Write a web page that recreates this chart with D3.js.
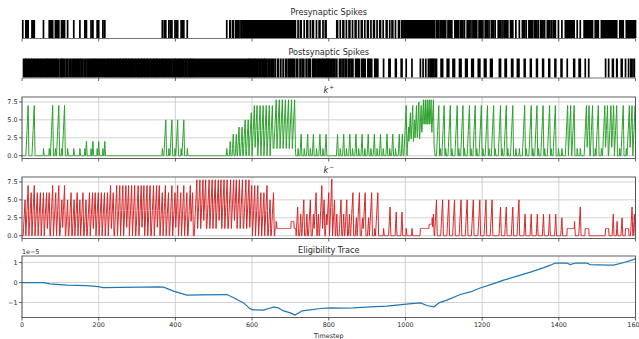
<!DOCTYPE html>
<html><head><meta charset="utf-8">
<script src="https://cdn.jsdelivr.net/npm/d3@7"></script>
<style>
body{margin:0;background:#fff}
svg{display:block;font-family:"DejaVu Sans",sans-serif}
</style>
</head><body>
<svg id="chart" width="639" height="339"></svg>
<script>
// ---- data ----------------------------------------------------------------
const timeTicks = [0, 200, 400, 600, 800, 1000, 1200, 1400, 1600];
const kTicks = [0, 2.5, 5, 7.5];
const eligTicks = [-1e-5, 0, 1e-5];

// presynaptic spike runs [first timestep, last timestep]
const preRuns = [
  [2,2],[10,16],[26,32],[56,56],[71,71],[74,80],[87,87],[90,96],[103,103],[105,111],[119,119],[135,135],[151,151],
  [164,164],[167,168],[180,180],[184,185],[196,196],[199,200],[211,211],[215,216],
  [366,366],[371,375],[383,383],[387,391],[399,399],[402,406],[415,415],[418,422],[431,431],
  [534,534],[542,543],[549,551],[557,559],[563,566],[571,574],[578,582],[586,590],[593,598],[600,606],[607,613],
  [615,621],[623,629],[631,637],[639,645],[647,653],[655,713],
  [720,720],[726,728],[736,736],[743,745],[752,752],[758,760],[768,768],[775,777],[785,785],[791,793],
  [821,823],[830,830],[837,839],[846,846],[853,855],[862,862],[869,871],[878,878],[885,887],[894,894],[901,903],
  [910,910],[917,919],[926,926],[933,935],[942,942],[950,952],[959,959],[965,967],[974,974],[982,984],[990,992],
  [996,1076],
  [1081,1087],[1091,1091],[1095,1101],[1105,1105],[1111,1117],[1121,1121],[1129,1135],[1139,1139],[1144,1150],
  [1154,1154],[1161,1167],[1171,1171],[1176,1182],[1186,1186],[1192,1198],[1202,1202],[1208,1214],[1218,1218],
  [1224,1230],[1234,1234],[1242,1248],[1252,1252],[1257,1263],[1267,1267],[1274,1280],[1288,1288],[1297,1297],
  [1305,1311],[1315,1315],[1322,1328],[1332,1332],[1337,1343],[1347,1347],[1353,1359],[1363,1363],[1370,1376],
  [1380,1380],[1385,1391],[1399,1399],[1408,1408],
  [1417,1423],[1425,1431],[1434,1440],[1448,1448],[1456,1456],
  [1466,1472],[1473,1479],[1482,1488],[1495,1495],[1497,1503],[1511,1511],[1514,1520],[1521,1527],[1530,1536],
  [1537,1543],[1545,1551],[1559,1559],[1562,1568],[1576,1576],[1578,1584],[1585,1591],[1593,1600]
];

// postsynaptic spike runs [first timestep, last timestep]
const postRuns = [
  [4,8],[10,16],[19,24],[26,32],[35,40],[43,48],[51,56],[59,64],[66,71],[74,80],[83,88],[90,96],[100,104],[105,111],
  [115,119],[123,128],[132,136],[139,144],[147,151],[154,159],[163,167],[171,176],[179,184],[186,191],[194,199],
  [202,207],[210,215],[218,223],[225,231],[233,238],[241,247],[249,255],[257,263],[265,271],[272,278],[280,286],
  [288,294],[297,303],[305,311],[312,318],[320,326],[328,334],[337,343],[345,351],[352,358],[361,366],[368,374],
  [377,382],[385,391],[394,399],[400,406],[409,414],[416,422],[425,430],[433,439],[440,445],[448,592],[593,599],
  [601,607],[609,615],[618,623],[626,631],[633,639],[643,647],[651,656],
  [660,661],[667,668],[674,675],[681,682],[688,689],[694,700],[703,711],
  [716,719],[725,727],[731,735],[741,743],[748,752],[758,760],[762,767],[771,773],[776,782],[784,788],[792,794],
  [795,800],[801,808],[811,815],[819,821],[828,832],[837,839],[843,847],[852,854],[858,863],[870,872],[875,880],
  [886,888],[890,895],[902,904],[907,912],[920,920],[923,928],[943,943],[957,960],[974,976],[989,991],[1002,1002],
  [1017,1017],
  [1039,1039],[1046,1046],[1053,1053],[1060,1060],[1064,1065],[1068,1069],[1071,1073],[1077,1081],[1093,1097],
  [1109,1113],[1124,1128],[1141,1145],[1157,1161],[1173,1177],[1190,1194],[1206,1210],[1222,1226],[1245,1248],
  [1260,1263],[1277,1280],[1292,1296],[1310,1312],[1326,1328],[1342,1344],[1358,1360],[1374,1376],[1390,1392],
  [1406,1408],[1422,1422],[1439,1441],[1453,1456],[1469,1469],[1478,1478],[1522,1522],[1530,1530],[1540,1542],
  [1551,1552],[1563,1565],[1574,1574],[1582,1582],[1588,1591],[1596,1597]
];

// k+ trace: peaks [timestep, value] and raised floors [from, to, level]
const kPlusPeaks = [
  [16,7],[32,7],[56,1],[71,1],[80,7],[87,1],[96,7],[103,1],[111,7],[119,1],[135,1],[151,1],[164,1],[168,2],
  [180,1],[185,2],[196,1],[200,2],[211,1],[216,2],
  [366,1],[375,5],[383,1],[391,5],[399,1],[406,5],[415,1],[422,5],[431,1],
  [534,1],[543,2],[551,3],[559,3],[566,4],[574,4],[582,5],[590,5],[598,6],[606,7],[613,7],[621,7],[629,7],
  [637,7],[645,7],[653,7],[663,7.8],[671,7.8],[679,7.8],[687,7.8],[695,7.8],[703,7.8],[711,7.8],
  [720,1],[728,3],[736,1],[745,3],[752,1],[760,3],[768,1],[777,3],[785,1],[793,3],
  [823,3],[830,1],[839,3],[846,1],[855,3],[862,1],[871,3],[878,1],[887,3],[894,1],[903,3],[910,1],[919,3],
  [926,1],[935,3],[942,1],[952,3],[959,1],[967,3],[974,1],[984,3],[992,3],
  [1002,7],[1008,4],[1013,6],[1019,7],[1024,5],[1029,7],[1035,7.5],[1041,7],[1047,7.8],[1052,7.8],[1057,7.8],
  [1062,7.8],[1067,7.8],[1073,7.8],
  [1087,7],[1091,1],[1101,7],[1105,1],[1117,7],[1121,1],[1135,7],[1139,1],[1150,7],[1154,1],[1167,7],[1171,1],
  [1182,7],[1186,1],[1198,7],[1202,1],[1214,7],[1218,1],[1230,7],[1234,1],[1248,7],[1252,1],[1263,7],[1267,1],
  [1280,7],[1288,1],[1297,1],
  [1311,7],[1315,1],[1328,7],[1332,1],[1343,7],[1347,1],[1359,7],[1363,1],[1376,7],[1380,1],[1391,7],[1399,1],
  [1408,1],
  [1423,7],[1431,7],[1440,7],[1448,1],[1456,1],
  [1472,7],[1479,7],[1488,7],[1495,1],[1503,7],[1511,1],[1520,7],[1527,7],[1536,7],[1543,7],[1551,7],[1559,1],
  [1568,7],[1576,1],[1584,7],[1591,7],[1599,7]
];
const kPlusFloors = [[655,713,1],[1043,1076,1]];

// k- trace: peaks [timestep, value] and raised floors [from, to, level]
const kMinusPeaks = [
  [8,5],[16,7],[24,6],[32,7],[40,6],[48,6],[56,6],[64,6],[71,6],[80,7],[88,6],[96,7],[104,5],[111,7],[119,5],
  [128,6],[136,5],[144,6],[151,5],[159,6],[167,5],[176,6],[184,6],[191,6],[199,6],[207,6],[215,6],[223,6],
  [231,7],[238,6],[247,7],[255,7],[263,7],[271,7],[278,7],[286,7],[294,7],[303,7],[311,7],[318,7],[326,7],
  [334,7],[343,7],[351,7],[358,7],[366,6],[374,7],[382,6],[391,7],[399,6],[406,7],[414,6],[422,7],[430,6],
  [439,7],[445,6],
  [456,7.8],[464,7.8],[472,7.8],[479,7.8],[488,7.8],[496,7.8],[504,7.8],[512,7.8],[519,7.8],[527,7.8],
  [535,7.8],[544,7.8],[552,7.8],[559,7.8],[567,7.8],[575,7.8],[584,7.8],[592,7.8],
  [599,7],[607,7],[615,7],[623,6],[631,6],[639,7],[647,5],[656,6],[663,2],
  [719,4],[727,3],[735,5],[743,3],[752,5],[760,3],[767,6],[773,3],[782,7],[788,5],[794,3],[800,6],[808,7.9],
  [815,5],[821,3],[832,5],[839,3],[847,5],[854,3],[863,6],[872,2.5],[880,6],[888,2.5],[895,6],[904,2.5],
  [912,6],[920,1],[928,6],[943,1],[960,4],[976,3.3],[991,3.3],[1002,1],[1017,1],
  [1070,2.5],[1073,3],[1081,5],[1097,5],[1113,5],[1128,5],[1145,5],[1161,5],[1177,5],[1194,5],[1210,5],
  [1226,5],[1248,4],[1263,4],[1280,4],[1296,5],[1312,3],[1328,3],[1344,3],[1360,3],[1376,3],[1392,3],
  [1408,2.5],[1441,2],[1456,4],[1542,3],[1552,2],[1565,2.5],[1591,4],[1597,3]
];
const kMinusFloors = [
  [450,593,1],[660,701,1],[702,709,2],[710,714,1],[1039,1061,1],[1062,1068,1.6],
  [1422,1439,1],[1469,1478,1],[1522,1530,1],[1574,1582,1]
];

// eligibility trace samples
const eligSteps = [0,56,73,117,169,199,212,256,360,369,395,430,465,534,551,578,595,604,630,643,656,669,682,
  700,712,730,752,778,804,830,865,908,952,1002,1039,1056,1074,1087,1108,1143,1169,1195,1230,1256,1291,1326,
  1361,1378,1391,1422,1430,1443,1474,1482,1526,1543,1565,1591,1600];
const eligValues = [0,0,-0.07e-5,-0.13e-5,-0.15e-5,-0.2e-5,-0.25e-5,-0.24e-5,-0.22e-5,-0.23e-5,-0.43e-5,
  -0.63e-5,-0.62e-5,-0.6e-5,-0.75e-5,-1.02e-5,-1.32e-5,-1.37e-5,-1.38e-5,-1.3e-5,-1.23e-5,-1.27e-5,-1.42e-5,
  -1.52e-5,-1.63e-5,-1.42e-5,-1.37e-5,-1.3e-5,-1.27e-5,-1.28e-5,-1.27e-5,-1.22e-5,-1.18e-5,-1.08e-5,-1.02e-5,
  -1.15e-5,-1.22e-5,-1.02e-5,-0.88e-5,-0.6e-5,-0.47e-5,-0.27e-5,-0.05e-5,0.12e-5,0.32e-5,0.52e-5,0.75e-5,
  0.87e-5,0.98e-5,0.97e-5,0.9e-5,0.98e-5,0.97e-5,0.9e-5,0.87e-5,0.87e-5,0.98e-5,1.12e-5,1.2e-5];

// ---- drawing -------------------------------------------------------------
const svg = d3.select("#chart");
const L = 22, R = 635.5;
const x = d3.scaleLinear().domain([0, 1600]).range([L, R]);
const AX = "#3a3a3a", GRID = "#c8c8c8", TXT = "#2a2a2a";
const SPIKE_HALF = 0.85; // half the drawn width of one spike, px

function title(y, text) {
  return svg.append("text").attr("x", (L + R) / 2).attr("y", y)
    .attr("text-anchor", "middle").attr("font-size", 8.2).attr("fill", TXT).text(text);
}
function mathTitle(y, sup) {
  const t = svg.append("text").attr("x", (L + R) / 2).attr("y", y)
    .attr("text-anchor", "middle").attr("font-size", 8.2).attr("fill", TXT);
  t.append("tspan").attr("font-style", "italic").text("k");
  t.append("tspan").attr("font-size", 5.8).attr("dy", -3.2).attr("dx", 1).text(sup);
}
function bottomTicks(yb) {
  svg.append("g").selectAll("line").data(timeTicks).join("line")
    .attr("x1", d => x(d)).attr("x2", d => x(d)).attr("y1", yb).attr("y2", yb + 3)
    .attr("stroke", AX).attr("stroke-width", 0.8);
}

// spike rasters
function raster(runs, top, bottom) {
  svg.append("g").selectAll("rect").data(runs).join("rect")
    .attr("x", d => x(d[0]) - SPIKE_HALF)
    .attr("width", d => x(d[1]) - x(d[0]) + 2 * SPIKE_HALF)
    .attr("y", top).attr("height", bottom - top).attr("fill", "#000");
  svg.append("line").attr("x1", L).attr("x2", R).attr("y1", bottom + 0.5).attr("y2", bottom + 0.5)
    .attr("stroke", "#666").attr("stroke-width", 0.9);
  bottomTicks(bottom + 0.5);
}

title(15, "Presynaptic Spikes");
raster(preRuns, 20, 38);
title(54.5, "Postsynaptic Spikes");
raster(postRuns, 58.5, 77.5);

// turns peak/floor readings into a per-timestep series for the line
function traceSeries(peaks, floors) {
  const y = new Array(1601).fill(0);
  floors.forEach(([a, b, v]) => { for (let t = a; t <= b; t++) y[t] = v; });
  const base = y.slice();
  peaks.forEach(([t, v]) => {
    const b = base[t];
    const r = Math.max(1, Math.min(6, Math.round(v - b)));
    for (let k = 0; k <= r; k++) { const s = t - k; if (s >= 0) y[s] = Math.max(y[s], v - (v - b) * k / r); }
    for (let k = 1; k <= 2; k++) { const s = t + k; if (s <= 1600) y[s] = Math.max(y[s], v - (v - b) * k / 2); }
  });
  return y.map((v, t) => [t, v]);
}

let clipId = 0;
function linePanel(top, bottom, yDomain, yTicks, fmt, series, color, width) {
  const y = d3.scaleLinear().domain(yDomain).range([bottom, top]);
  const g = svg.append("g");
  // grid
  g.selectAll(".gx").data(timeTicks).join("line")
    .attr("x1", d => x(d)).attr("x2", d => x(d)).attr("y1", top).attr("y2", bottom)
    .attr("stroke", GRID).attr("stroke-width", 0.8);
  g.selectAll(".gy").data(yTicks).join("line")
    .attr("x1", L).attr("x2", R).attr("y1", d => y(d)).attr("y2", d => y(d))
    .attr("stroke", GRID).attr("stroke-width", 0.8);
  // data
  const id = "clip" + (clipId++);
  svg.append("clipPath").attr("id", id).append("rect")
    .attr("x", L).attr("y", top).attr("width", R - L).attr("height", bottom - top);
  g.append("path").datum(series).attr("clip-path", `url(#${id})`)
    .attr("d", d3.line().x(d => x(d[0])).y(d => y(d[1])))
    .attr("fill", "none").attr("stroke", color).attr("stroke-width", width).attr("stroke-linejoin", "round");
  // frame
  g.append("rect").attr("x", L).attr("y", top).attr("width", R - L).attr("height", bottom - top)
    .attr("fill", "none").attr("stroke", AX).attr("stroke-width", 0.8);
  // y ticks
  g.selectAll(".ty").data(yTicks).join("line")
    .attr("x1", L - 3).attr("x2", L).attr("y1", d => y(d)).attr("y2", d => y(d))
    .attr("stroke", AX).attr("stroke-width", 0.8);
  g.selectAll(".tl").data(yTicks).join("text")
    .attr("x", L - 4.5).attr("y", d => y(d)).attr("dy", "0.35em")
    .attr("text-anchor", "end").attr("font-size", 6.4).attr("fill", TXT).text(fmt);
  bottomTicks(bottom);
  return y;
}

mathTitle(92.5, "+");
linePanel(97, 158.5, [-0.39, 8.19], kTicks, d3.format(".1f"),
  traceSeries(kPlusPeaks, kPlusFloors), "#2ca02c", 1);

mathTitle(172.5, "\u2212");
linePanel(177, 238.5, [-0.39, 8.19], kTicks, d3.format(".1f"),
  traceSeries(kMinusPeaks, kMinusFloors), "#d62728", 1);

title(252.5, "Eligibility Trace");
const eligSeries = eligSteps.map((t, i) => [t, eligValues[i]]);
linePanel(256, 317.5, [-1.75e-5, 1.33e-5], eligTicks,
  d => d3.format("d")(Math.round(d / 1e-5)).replace("-", "\u2212"), eligSeries, "#1f77b4", 1.2);
svg.append("text").attr("x", L).attr("y", 253.5).attr("font-size", 6.4).attr("fill", TXT).text("1e\u22125");

// shared time axis labels
svg.append("g").selectAll("text").data(timeTicks).join("text")
  .attr("x", d => x(d)).attr("y", 327).attr("text-anchor", "middle")
  .attr("font-size", 6.4).attr("fill", TXT).text(d => d);
svg.append("text").attr("x", (L + R) / 2).attr("y", 337.5).attr("text-anchor", "middle")
  .attr("font-size", 6.4).attr("fill", TXT).text("Timestep");
</script>
</body></html>
